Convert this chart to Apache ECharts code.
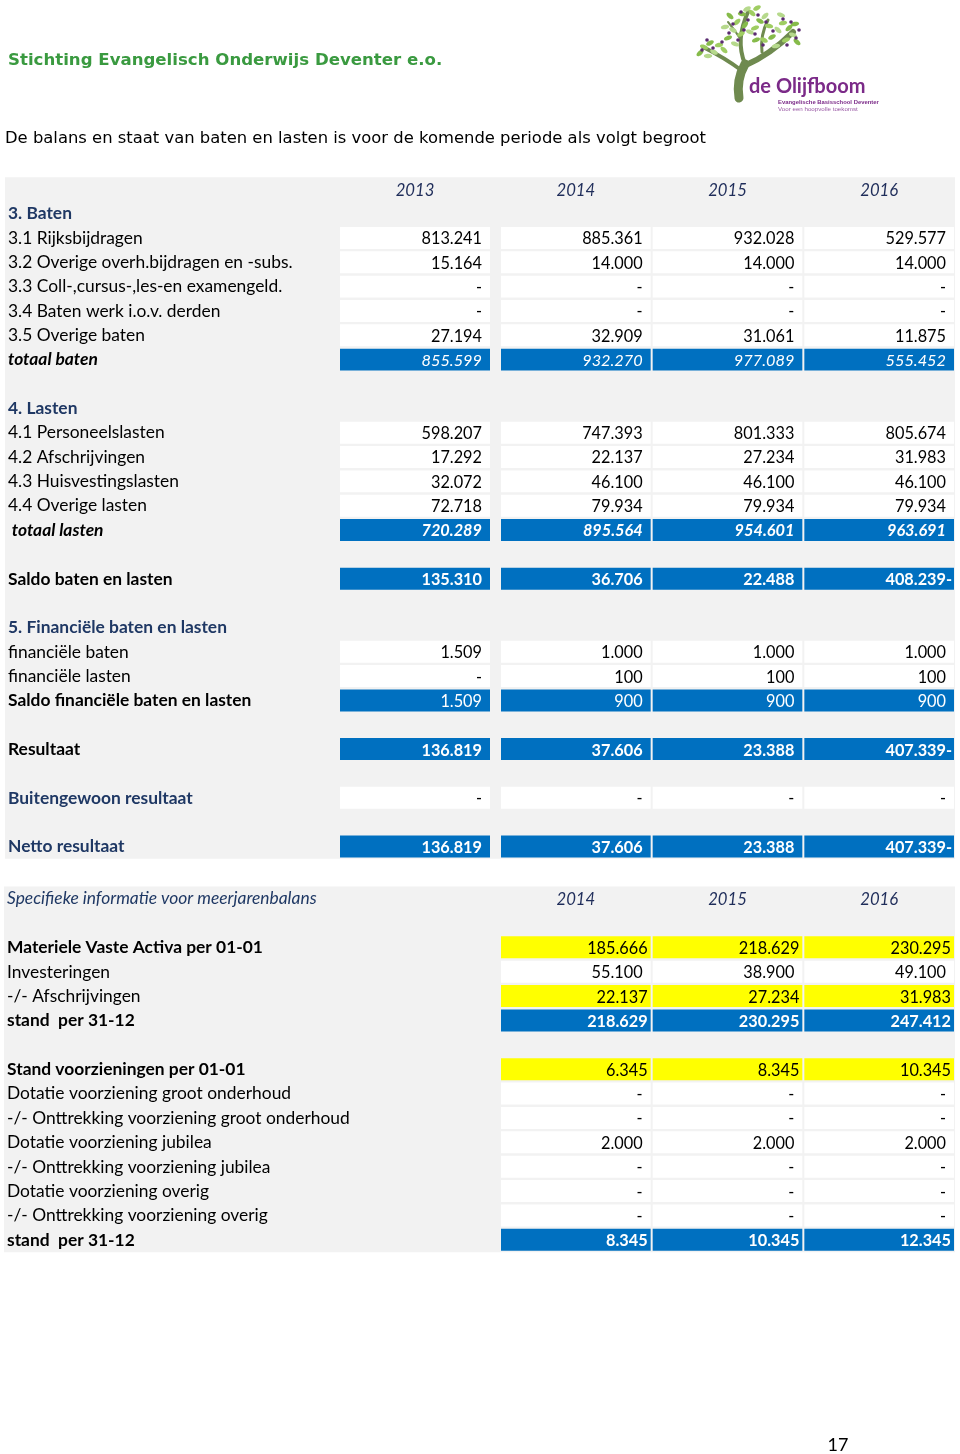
<!DOCTYPE html>
<html><head><meta charset="utf-8">
<script src="https://cdn.jsdelivr.net/npm/echarts@6/dist/echarts.min.js"></script>
<style>html,body{margin:0;padding:0;background:#fff}#c{width:960px;height:1454px}</style>
</head><body><div id="c"></div>
<script>
// ================= DATA =================
const titleText = 'Stichting Evangelisch Onderwijs Deventer e.o.';
const subtitleText = 'De balans en staat van baten en lasten is voor de komende periode als volgt begroot';
const pageNumber = '17';

const years1 = ['2013', '2014', '2015', '2016'];
const labels1 = ['', '3. Baten', '3.1 Rijksbijdragen', '3.2 Overige overh.bijdragen en -subs.',
  '3.3 Coll-,cursus-,les-en examengeld.', '3.4 Baten werk i.o.v. derden', '3.5 Overige baten', 'totaal baten', '',
  '4. Lasten', '4.1 Personeelslasten', '4.2 Afschrijvingen', '4.3 Huisvestingslasten', '4.4 Overige lasten',
  ' totaal lasten', '', 'Saldo baten en lasten', '', '5. Financiële baten en lasten', 'financiële baten',
  'financiële lasten', 'Saldo financiële baten en lasten', '', 'Resultaat', '', 'Buitengewoon resultaat', '', 'Netto resultaat'];
// values per year (null = no cell, 0 = "-")
const v2013 = [null, null, 813241, 15164, 0, 0, 27194, 855599, null, null, 598207, 17292, 32072, 72718, 720289, null, 135310, null, null, 1509, 0, 1509, null, 136819, null, 0, null, 136819];
const v2014 = [null, null, 885361, 14000, 0, 0, 32909, 932270, null, null, 747393, 22137, 46100, 79934, 895564, null, 36706, null, null, 1000, 100, 900, null, 37606, null, 0, null, 37606];
const v2015 = [null, null, 932028, 14000, 0, 0, 31061, 977089, null, null, 801333, 27234, 46100, 79934, 954601, null, 22488, null, null, 1000, 100, 900, null, 23388, null, 0, null, 23388];
const v2016 = [null, null, 529577, 14000, 0, 0, 11875, 555452, null, null, 805674, 31983, 46100, 79934, 963691, null, -408239, null, null, 1000, 100, 900, null, -407339, null, 0, null, -407339];

const years2 = ['2014', '2015', '2016'];
const labels2 = ['Specifieke informatie voor meerjarenbalans', '', 'Materiele Vaste Activa per 01-01', 'Investeringen',
  '-/- Afschrijvingen', 'stand  per 31-12', '', 'Stand voorzieningen per 01-01', 'Dotatie voorziening groot onderhoud',
  '-/- Onttrekking voorziening groot onderhoud', 'Dotatie voorziening jubilea', '-/- Onttrekking voorziening jubilea',
  'Dotatie voorziening overig', '-/- Onttrekking voorziening overig', 'stand  per 31-12'];
const w2014 = [null, null, 185666, 55100, 22137, 218629, null, 6345, 0, 0, 2000, 0, 0, 0, 8345];
const w2015 = [null, null, 218629, 38900, 27234, 230295, null, 8345, 0, 0, 2000, 0, 0, 0, 10345];
const w2016 = [null, null, 230295, 49100, 31983, 247412, null, 10345, 0, 0, 2000, 0, 0, 0, 12345];

// ================= STYLES / LAYOUT =================
const labelStyle1 = ['n','navyB','n','n','n','n','n','bi','n','navyB','n','n','n','n','bi','n','b','n','navyB','n','n','b','n','b','n','navyB','n','navyB'];
const cellStyle1 = ['hdr','none','w','w','w','w','w','blueI','none','none','w','w','w','w','blueBI','none','blueB','none','none','w','w','blue','none','blueB','none','w','none','blueB'];
const labelStyle2 = ['navyI','n','b','n','n','b','n','b','n','n','n','n','n','n','b'];
const cellStyle2 = ['hdr','none','yel','w','yel','blueB3','none','yel','w','w','w','w','w','w','blueB3'];

const FONT = 'Lato';
const NFS = 16.3;   // numbers
const LFS = 17.4;   // row labels
const NAVY = '#1f3864';
const BLUE = '#0070c0';
const YEL = '#ffff00';
const GREY = '#f2f2f2';
const P1_TOP = 177.3, P1_ROWH = 24.34;
const P2_TOP = 886.6, P2_ROWH = 24.375;

const STY = {
  hdr:   { fill: null, color: '#1f2d5a', font: 'italic ' + (NFS + 0.4) + 'px ' + FONT, center: true },
  w:     { fill: '#ffffff', color: '#000', font: NFS + 'px ' + FONT, pad: 8 },
  blueI: { fill: BLUE, color: '#fff', font: 'italic ' + NFS + 'px ' + FONT, pad: 8 },
  blueBI:{ fill: BLUE, color: '#fff', font: 'italic bold ' + NFS + 'px ' + FONT, pad: 8 },
  blue:  { fill: BLUE, color: '#fff', font: NFS + 'px ' + FONT, pad: 8 },
  blueB: { fill: BLUE, color: '#fff', font: 'bold ' + NFS + 'px ' + FONT, pad: 8 },
  yel:   { fill: YEL, color: '#000', font: NFS + 'px ' + FONT, pad: 3 },
  blueB3:{ fill: BLUE, color: '#fff', font: 'bold ' + NFS + 'px ' + FONT, pad: 3 }
};

function fmt(v) {
  if (v === 0) return '-';
  return String(Math.abs(v)).replace(/\B(?=(\d{3})+(?!\d))/g, '.');
}

function buildItems(cols, yearNames, styles) {
  const items = [];
  cols.forEach((arr, ci) => {
    arr.forEach((v, ri) => {
      const st = styles[ri];
      if (st === 'hdr') items.push({ value: [ci, ri], text: yearNames[ci], style: st, neg: false });
      else if (st !== 'none' && v !== null) items.push({ value: [ci, ri], text: fmt(v), style: st, neg: v < 0 });
    });
  });
  return items;
}

const items1a = buildItems([v2013], ['2013'], cellStyle1);
const items1b = buildItems([v2014, v2015, v2016], years1.slice(1), cellStyle1);
const items2 = buildItems([w2014, w2015, w2016], years2, cellStyle2);

function makeRender(items, insetL, insetR) {
  return function (params, api) {
    const it = items[params.dataIndex];
    const c = api.coord([api.value(0), api.value(1)]);
    const s = api.size([1, 1]);
    const x0 = c[0] - s[0] / 2 + insetL, x1 = c[0] + s[0] / 2 - insetR;
    const y0 = c[1] - s[1] / 2 + 1, y1 = c[1] + s[1] / 2 - 1.4;
    const st = STY[it.style];
    const children = [];
    if (st.fill) children.push({ type: 'rect', shape: { x: x0, y: y0, width: x1 - x0, height: y1 - y0 }, style: { fill: st.fill } });
    const tx = st.center ? (x0 + x1) / 2 : x1 - st.pad;
    children.push({ type: 'text', style: { text: it.text, x: tx, y: c[1] + 1, align: st.center ? 'center' : 'right', verticalAlign: 'middle', fill: st.color, font: st.font } });
    if (it.neg) children.push({ type: 'text', style: { text: '-', x: tx, y: c[1] + 1, align: 'left', verticalAlign: 'middle', fill: st.color, font: st.font } });
    return { type: 'group', children };
  };
}

const rich = {
  n: { fontFamily: FONT, fontSize: LFS, color: '#000' },
  b: { fontFamily: FONT, fontSize: LFS, fontWeight: 'bold', color: '#000' },
  bi: { fontFamily: FONT, fontSize: LFS, fontWeight: 'bold', fontStyle: 'italic', color: '#000' },
  navyB: { fontFamily: FONT, fontSize: LFS, fontWeight: 'bold', color: NAVY },
  navyI: { fontFamily: FONT, fontSize: LFS, fontStyle: 'italic', color: NAVY }
};

function labelAxis(grid, labels, styles) {
  return {
    gridIndex: grid, type: 'category', data: labels, inverse: true,
    axisLine: { show: false }, axisTick: { show: false }, splitLine: { show: false },
    axisLabel: {
      inside: true, align: 'left', margin: 3, interval: 0,
      formatter: (v, i) => labels[i] ? '{' + styles[i] + '|' + labels[i] + '}' : '',
      rich: rich
    }
  };
}
function hiddenCat(grid, data) {
  return { gridIndex: grid, type: 'category', data: data, inverse: true, show: false };
}
const rowIdx1 = labels1.map((_, i) => 'r' + i);
const rowIdx2 = labels2.map((_, i) => 'r' + i);

// ---- logo decoration ----
const leaves = [
  [704,47,-20],[710,43,30],[714,52,-30],[719,45,10],[700,53,40],[708,56,0],[724,50,-40],
  [728,38,20],[733,30,-30],[737,22,40],[742,14,-10],[747,9,30],[752,13,-40],[745,25,50],[735,44,-20],
  [755,28,20],[760,21,-30],[765,16,40],[769,26,-10],[772,37,30],[778,30,-40],[783,23,10],[789,28,40],
  [793,35,-20],[786,40,20],[797,42,-40],[776,46,10],[764,40,-30],[756,40,20],[750,32,-20],[741,34,30],
  [795,24,10],[781,15,-20],[757,8,30],[730,16,-40],[725,27,10]
];
const berries = [[707,40],[713,48],[702,50],[722,42],[733,24],[741,12],[748,20],[758,15],[766,22],[773,31],[783,19],[791,22],[796,38],[787,45],[755,34],[744,30],[729,33],[763,45],[738,40],[799,30]];
const logoGraphics = [];
logoGraphics.push({ type: 'bezierCurve', shape: { x1: 739, y1: 98, x2: 745, y2: 64, cpx1: 736, cpy1: 80 }, style: { stroke: '#6f8a4f', lineWidth: 9, lineCap: 'round', fill: null } });
logoGraphics.push({ type: 'bezierCurve', shape: { x1: 741, y1: 70, x2: 703, y2: 47, cpx1: 725, cpy1: 58 }, style: { stroke: '#6f8a4f', lineWidth: 4, lineCap: 'round', fill: null } });
logoGraphics.push({ type: 'bezierCurve', shape: { x1: 744, y1: 66, x2: 793, y2: 32, cpx1: 770, cpy1: 55 }, style: { stroke: '#6f8a4f', lineWidth: 6, lineCap: 'round', fill: null } });
logoGraphics.push({ type: 'bezierCurve', shape: { x1: 745, y1: 64, x2: 748, y2: 12, cpx1: 735, cpy1: 40 }, style: { stroke: '#6f8a4f', lineWidth: 4, lineCap: 'round', fill: null } });
logoGraphics.push({ type: 'bezierCurve', shape: { x1: 762, y1: 52, x2: 768, y2: 20, cpx1: 760, cpy1: 35 }, style: { stroke: '#6f8a4f', lineWidth: 3, lineCap: 'round', fill: null } });
logoGraphics.push({ type: 'bezierCurve', shape: { x1: 741, y1: 40, x2: 728, y2: 22, cpx1: 735, cpy1: 30 }, style: { stroke: '#6f8a4f', lineWidth: 2, lineCap: 'round', fill: null } });
leaves.forEach((l, i) => logoGraphics.push({ type: 'ellipse', x: l[0], y: l[1], rotation: l[2] * Math.PI / 180, shape: { cx: 0, cy: 0, rx: 4.2, ry: 2.2 }, style: { fill: i % 3 === 0 ? '#9fcd62' : (i % 3 === 1 ? '#86bb4a' : '#b6d98c') } }));
berries.forEach(b => logoGraphics.push({ type: 'circle', shape: { cx: b[0], cy: b[1], r: 1.8 }, style: { fill: '#5a2a70' } }));
logoGraphics.push({ type: 'text', style: { text: 'de Olijfboom', x: 749, y: 87, verticalAlign: 'middle', font: 'bold 20px Lato', fill: '#7b2a88' } });
logoGraphics.push({ type: 'text', style: { text: 'Evangelische Basisschool Deventer', x: 778, y: 102, verticalAlign: 'middle', font: 'bold 5.9px "Liberation Sans"', fill: '#7b2a88' } });
logoGraphics.push({ type: 'text', style: { text: 'Voor een hoopvolle toekomst', x: 778, y: 109.5, verticalAlign: 'middle', font: '6.2px "Liberation Sans"', fill: '#9a5aa5' } });

const chart = echarts.init(document.getElementById('c'), null, { renderer: 'canvas', width: 960, height: 1454 });
const h1 = labels1.length * P1_ROWH, h2 = labels2.length * P2_ROWH;
chart.setOption({
  animation: false,
  backgroundColor: '#ffffff',
  grid: [
    { left: 5, width: 950, top: P1_TOP, height: h1, show: true, backgroundColor: GREY, borderWidth: 0, outerBoundsMode: 'none' },
    { left: 340, width: 152, top: P1_TOP, height: h1, outerBoundsMode: 'none' },
    { left: 500, width: 455, top: P1_TOP, height: h1, outerBoundsMode: 'none' },
    { left: 4, width: 951, top: P2_TOP, height: h2, show: true, backgroundColor: GREY, borderWidth: 0, outerBoundsMode: 'none' },
    { left: 500, width: 455, top: P2_TOP, height: h2, outerBoundsMode: 'none' }
  ],
  xAxis: [
    { gridIndex: 0, type: 'value', min: 0, max: 1, show: false },
    { gridIndex: 1, type: 'category', data: years1.slice(0, 1), show: false },
    { gridIndex: 2, type: 'category', data: years1.slice(1), show: false },
    { gridIndex: 3, type: 'value', min: 0, max: 1, show: false },
    { gridIndex: 4, type: 'category', data: years2, show: false }
  ],
  yAxis: [
    labelAxis(0, labels1, labelStyle1),
    hiddenCat(1, rowIdx1),
    hiddenCat(2, rowIdx1),
    labelAxis(3, labels2, labelStyle2),
    hiddenCat(4, rowIdx2)
  ],
  series: [
    { type: 'custom', xAxisIndex: 1, yAxisIndex: 1, data: items1a.map(d => d.value), renderItem: makeRender(items1a, 0, 2), silent: true },
    { type: 'custom', xAxisIndex: 2, yAxisIndex: 2, data: items1b.map(d => d.value), renderItem: makeRender(items1b, 1, 1), silent: true },
    { type: 'custom', xAxisIndex: 4, yAxisIndex: 4, data: items2.map(d => d.value), renderItem: makeRender(items2, 1, 1), silent: true }
  ],
  graphic: [
    { type: 'text', style: { text: titleText, x: 8, y: 61, verticalAlign: 'middle', font: 'bold 16.6px "DejaVu Sans"', fill: '#3a9a40' } },
    { type: 'text', style: { text: subtitleText, x: 5, y: 139, verticalAlign: 'middle', font: '16.4px "DejaVu Sans"', fill: '#000' } },
    { type: 'text', style: { text: pageNumber, x: 838, y: 1445, align: 'center', verticalAlign: 'middle', font: '18px Lato', fill: '#000' } },
    { type: 'group', children: logoGraphics }
  ]
});
</script></body></html>
